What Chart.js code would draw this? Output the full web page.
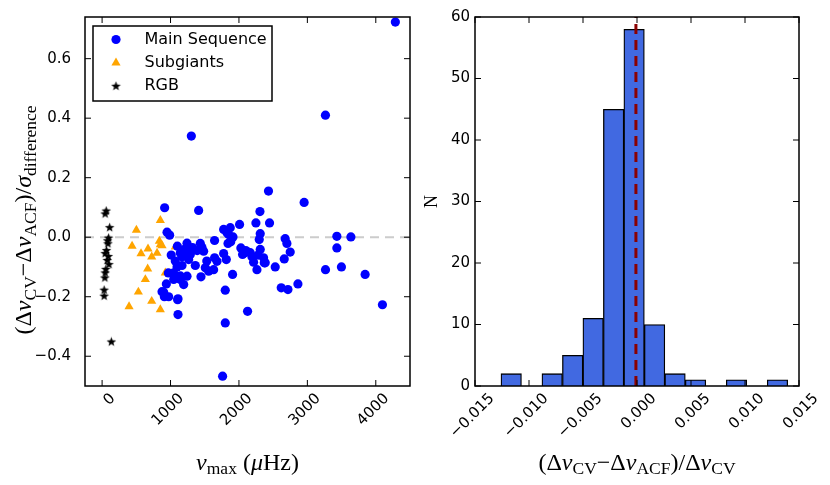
<!DOCTYPE html>
<html>
<head>
<meta charset="utf-8">
<script src="https://cdn.jsdelivr.net/npm/chart.js@4.4.1/dist/chart.umd.min.js"></script>
<style>
html, body { margin: 0; padding: 0; background: #fff; }
#wrap { position: relative; width: 830px; height: 485px; }
#left { position: absolute; left: 0; top: 0; }
#right { position: absolute; left: 420px; top: 0; }
</style>
</head>
<body>
<div id="wrap">
  <canvas id="left" width="420" height="485"></canvas>
  <canvas id="right" width="410" height="485"></canvas>
</div>
<script>
// ---- left panel: numax vs normalised difference ----
const MS_NUMAX = [4286, 1304, 3264, 2432, 2953, 914, 1411, 949, 987, 1776, 1873, 2009, 1849, 1913, 1840, 1644,
    2248, 2307, 2447, 2311, 2297, 2311, 2360, 2370, 2263, 2530, 2676, 2701, 2749, 2662, 2618, 2716, 2862,
    3265, 3431, 3636, 3431, 3498, 3844, 4097, 2126, 1800, 1800, 1907, 1761, 1109, 1109, 973, 900, 939, 968,
    1880, 1435, 1460, 1484, 1390, 1231, 1143, 1168, 1289, 1265, 1362, 1508, 1630, 1644, 1679, 1776, 1815,
    2028, 2077, 2053, 2165, 2190, 2214, 2384, 1212, 1241, 1192, 1070, 1095, 1168, 1045, 1143, 1241, 876,
    910, 1104, 1445, 1557, 1143, 1192, 1046, 1100, 1010, 1825, 2100, 2280, 1530, 1320];
const MS_DIFF = [0.723, 0.340, 0.410, 0.155, 0.117, 0.099, 0.090, 0.017, 0.007, 0.026, 0.032, 0.043, 0.009, 0.001, -0.021, -0.011,
    0.048, 0.086, 0.048, 0.012, -0.008, -0.041, -0.069, -0.086, -0.109, -0.100, -0.005, -0.021, -0.050, -0.073, -0.170, -0.176, -0.157,
    -0.109, 0.003, 0.001, -0.036, -0.100, -0.125, -0.227, -0.249, -0.288, -0.178, -0.125, -0.467, -0.260, -0.207, -0.200, -0.185, -0.157, -0.120,
    -0.015, -0.021, -0.035, -0.047, -0.045, -0.038, -0.053, -0.066, -0.058, -0.075, -0.095, -0.103, -0.109, -0.069, -0.081, -0.055, -0.075,
    -0.036, -0.053, -0.058, -0.052, -0.066, -0.084, -0.086, -0.040, -0.020, -0.060, -0.080, -0.100, -0.095, -0.120, -0.130, -0.131, -0.183,
    -0.200, -0.210, -0.133, -0.114, -0.142, -0.159, -0.142, -0.030, -0.060, 0.015, -0.045, -0.060, -0.080, -0.035];

const SG_NUMAX = [851, 501, 438, 569, 671, 725, 803, 837, 851, 876, 1070, 666, 632, 530, 725, 394, 851, 924];
const SG_DIFF = [0.057, 0.024, -0.030, -0.055, -0.039, -0.066, -0.053, -0.013, -0.025, -0.028, -0.032, -0.106, -0.142, -0.184, -0.215, -0.233, -0.243, -0.120];

const RGB_NUMAX = [60, 45, 110, 95, 80, 85, 65, 45, 90, 75, 100, 55, 45, 40, 30, 30, 135];
const RGB_DIFF = [0.088, 0.078, 0.032, -0.003, -0.012, -0.022, -0.045, -0.055, -0.065, -0.078, -0.092, -0.108, -0.120, -0.137, -0.178, -0.198, -0.352];

const NUMAX_TICKS = [0, 1000, 2000, 3000, 4000];
const DIFF_TICKS = [-0.4, -0.2, 0.0, 0.2, 0.4, 0.6];
const NUMAX_RANGE = [-250, 4500];
const DIFF_RANGE = [-0.5, 0.74];

// ---- right panel: histogram of fractional difference ----
const HIST_START = -0.012595;
const HIST_BIN = 0.0018964;
const HIST_COUNTS = [2, 0, 2, 5, 11, 45, 58, 10, 2, 1, 0, 1, 0, 1];
const HIST_MEDIAN = -0.0001;
const FRAC_TICKS = [-0.015, -0.010, -0.005, 0.000, 0.005, 0.010, 0.015];
const COUNT_TICKS = [0, 10, 20, 30, 40, 50, 60];
const FRAC_RANGE = [-0.015, 0.015];
const COUNT_RANGE = [0, 60];

const TICK_FONT = {family: 'DejaVu Sans', size: 15};
const minus = s => s.replace('-', '\u2212');

function makeStar(size, color) {
    const c = document.createElement('canvas');
    c.width = c.height = size;
    const g = c.getContext('2d');
    const r = size / 2 - 0.5, ri = r * 0.42, m = size / 2;
    g.fillStyle = color;
    g.beginPath();
    for (let i = 0; i < 10; i++) {
        const rr = i % 2 ? ri : r;
        const a = -Math.PI / 2 + i * Math.PI / 5;
        g.lineTo(m + rr * Math.cos(a), m + rr * Math.sin(a));
    }
    g.closePath();
    g.fill();
    return c;
}
const starImg = makeStar(11, '#000');

// inward ticks on all four sides + frame, like matplotlib
const frameTicks = {
    id: 'frameTicks',
    afterDatasetsDraw(chart) {
        const {ctx, chartArea: a, scales: {x, y}} = chart;
        ctx.save();
        ctx.strokeStyle = '#000';
        ctx.lineWidth = 1;
        ctx.beginPath();
        x.ticks.forEach(t => {
            const p = x.getPixelForValue(t.value);
            ctx.moveTo(p, a.bottom); ctx.lineTo(p, a.bottom - 6);
            ctx.moveTo(p, a.top); ctx.lineTo(p, a.top + 6);
        });
        y.ticks.forEach(t => {
            const p = y.getPixelForValue(t.value);
            ctx.moveTo(a.left, p); ctx.lineTo(a.left + 6, p);
            ctx.moveTo(a.right, p); ctx.lineTo(a.right - 6, p);
        });
        ctx.stroke();
        ctx.lineWidth = 1.5;
        ctx.strokeRect(a.left, a.top, a.right - a.left, a.bottom - a.top);
        ctx.restore();
    }
};

// axis titles with subscripts
function drawMath(ctx, segs, cx, cy, rot, main = 24, sub = 17.5) {
    const fonts = {
        r: `${main}px "Liberation Serif"`,
        i: `italic ${main}px "Liberation Serif"`,
        s: `${sub}px "Liberation Serif"`
    };
    ctx.save();
    ctx.translate(cx, cy);
    if (rot) ctx.rotate(rot);
    let w = 0;
    segs.forEach(([k, t]) => { ctx.font = fonts[k]; w += ctx.measureText(t).width; });
    let x = -w / 2;
    ctx.fillStyle = '#000';
    ctx.textAlign = 'left';
    ctx.textBaseline = 'alphabetic';
    segs.forEach(([k, t]) => {
        ctx.font = fonts[k];
        ctx.fillText(t, x, k === 's' ? main * 0.33 + 4.5 : main * 0.33);
        x += ctx.measureText(t).width;
    });
    ctx.restore();
}
const mathLabels = {
    id: 'mathLabels',
    afterDraw(chart, args, opts) {
        const a = chart.chartArea;
        (opts.items || []).forEach(it => {
            const cx = it.x != null ? it.x : (a.left + a.right) / 2;
            const cy = it.y != null ? it.y : (a.top + a.bottom) / 2;
            drawMath(chart.ctx, it.segs, cx, cy, it.rot || 0, it.size);
        });
    }
};

// legend box inside the axes (top left)
const boxLegend = {
    id: 'boxLegend',
    afterDraw(chart, args, opts) {
        if (!opts.entries) return;
        const {ctx} = chart;
        ctx.save();
        ctx.fillStyle = '#fff';
        ctx.fillRect(opts.x, opts.y, opts.w, opts.h);
        ctx.strokeStyle = '#000';
        ctx.lineWidth = 1.5;
        ctx.strokeRect(opts.x, opts.y, opts.w, opts.h);
        opts.entries.forEach((e, i) => {
            const ds = chart.data.datasets[e];
            const yy = opts.y + 13.5 + i * 23.4;
            ctx.fillStyle = ds.backgroundColor;
            Chart.helpers.drawPoint(ctx, {pointStyle: ds.pointStyle, radius: ds.pointRadius, rotation: 0, borderWidth: 0}, opts.x + 23, yy);
            ctx.fillStyle = '#000';
            ctx.font = '16px "DejaVu Sans"';
            ctx.textBaseline = 'middle';
            ctx.textAlign = 'left';
            ctx.fillText(ds.label, opts.x + 51.5, yy);
        });
        ctx.restore();
    }
};

const toXY = (xs, ys) => xs.map((v, i) => ({x: v, y: ys[i]}));

new Chart(document.getElementById('left'), {
    type: 'scatter',
    data: {
        datasets: [
            {label: 'Main Sequence', data: toXY(MS_NUMAX, MS_DIFF), backgroundColor: '#0000ff', borderWidth: 0,
                pointStyle: 'circle', pointRadius: 4.6, order: 0},
            {label: 'Subgiants', data: toXY(SG_NUMAX, SG_DIFF), backgroundColor: '#ffa500', borderWidth: 0,
                pointStyle: 'triangle', pointRadius: 5.3, order: 1},
            {label: 'RGB', data: toXY(RGB_NUMAX, RGB_DIFF), backgroundColor: '#000', borderWidth: 0,
                pointStyle: starImg, pointRadius: 5, order: 2},
            {label: 'zero', data: NUMAX_RANGE.map(v => ({x: v, y: 0})), showLine: true, pointRadius: 0,
                borderColor: '#cccccc', borderWidth: 2, borderDash: [9, 6], order: 3}
        ]
    },
    options: {
        responsive: false,
        animation: false,
        events: [],
        layout: {padding: {left: 0, top: 17, right: 10, bottom: 0}},
        plugins: {
            legend: {display: false},
            tooltip: {enabled: false},
            boxLegend: {x: 93, y: 26, w: 179, h: 75, entries: [0, 1, 2]},
            mathLabels: {
                items: [
                    {y: 462, segs: [['i', 'ν'], ['s', 'max'], ['r', ' ('], ['i', 'μ'], ['r', 'Hz)']]},
                    {x: 23.5, y: 220, rot: -Math.PI / 2,
                        segs: [['r', '(Δ'], ['i', 'ν'], ['s', 'CV'], ['r', '−Δ'], ['i', 'ν'], ['s', 'ACF'], ['r', ')/'], ['i', 'σ'], ['s', 'difference']]}
                ]
            }
        },
        scales: {
            x: {
                type: 'linear', min: NUMAX_RANGE[0], max: NUMAX_RANGE[1],
                grid: {display: false, drawTicks: false}, border: {display: false},
                afterBuildTicks: s => { s.ticks = NUMAX_TICKS.map(v => ({value: v})); },
                afterFit: s => { s.height = 485 - 386; s.paddingLeft = s.paddingRight = 0; },
                ticks: {font: TICK_FONT, color: '#000', minRotation: 45, maxRotation: 45, autoSkip: false,
                    padding: 4, labelOffset: 11, callback: v => String(v)}
            },
            y: {
                type: 'linear', min: DIFF_RANGE[0], max: DIFF_RANGE[1],
                grid: {display: false, drawTicks: false}, border: {display: false},
                afterBuildTicks: s => { s.ticks = DIFF_TICKS.map(v => ({value: v})); },
                afterFit: s => { s.width = 85; s.paddingTop = s.paddingBottom = 0; },
                ticks: {font: TICK_FONT, color: '#000', padding: 14, callback: v => minus(v.toFixed(1))}
            }
        }
    },
    plugins: [frameTicks, mathLabels, boxLegend]
});

const histData = HIST_COUNTS.map((c, i) => ({x: HIST_START + (i + 0.5) * HIST_BIN, y: c}));

new Chart(document.getElementById('right'), {
    data: {
        datasets: [
            {type: 'bar', data: histData, backgroundColor: '#4169e1', borderColor: '#000', borderWidth: 1.3,
                barPercentage: 1, categoryPercentage: 1, order: 1},
            {type: 'line', data: COUNT_RANGE.map(v => ({x: HIST_MEDIAN, y: v})), borderColor: '#8b0000',
                borderWidth: 3, borderDash: [10, 6], pointRadius: 0, order: 0}
        ]
    },
    options: {
        responsive: false,
        animation: false,
        events: [],
        layout: {padding: {left: 0, top: 17, right: 31, bottom: 0}},
        plugins: {
            legend: {display: false},
            tooltip: {enabled: false},
            mathLabels: {
                items: [
                    {y: 462, segs: [['r', '(Δ'], ['i', 'ν'], ['s', 'CV'], ['r', '−Δ'], ['i', 'ν'], ['s', 'ACF'], ['r', ')/Δ'], ['i', 'ν'], ['s', 'CV']]},
                    {x: 11, size: 18, rot: -Math.PI / 2, segs: [['r', 'N']]}
                ]
            }
        },
        scales: {
            x: {
                type: 'linear', min: FRAC_RANGE[0], max: FRAC_RANGE[1], offset: false,
                grid: {display: false, drawTicks: false, offset: false}, border: {display: false},
                afterBuildTicks: s => { s.ticks = FRAC_TICKS.map(v => ({value: v})); },
                afterFit: s => { s.height = 485 - 386; s.paddingLeft = s.paddingRight = 0; },
                ticks: {font: TICK_FONT, color: '#000', minRotation: 45, maxRotation: 45, autoSkip: false,
                    padding: 4, labelOffset: 17, callback: v => minus(v.toFixed(3))}
            },
            y: {
                type: 'linear', min: COUNT_RANGE[0], max: COUNT_RANGE[1],
                grid: {display: false, drawTicks: false}, border: {display: false},
                afterBuildTicks: s => { s.ticks = COUNT_TICKS.map(v => ({value: v})); },
                afterFit: s => { s.width = 55; s.paddingTop = s.paddingBottom = 0; },
                ticks: {font: TICK_FONT, color: '#000', padding: 5, callback: v => String(v)}
            }
        }
    },
    plugins: [frameTicks, mathLabels]
});
</script>
</body>
</html>
